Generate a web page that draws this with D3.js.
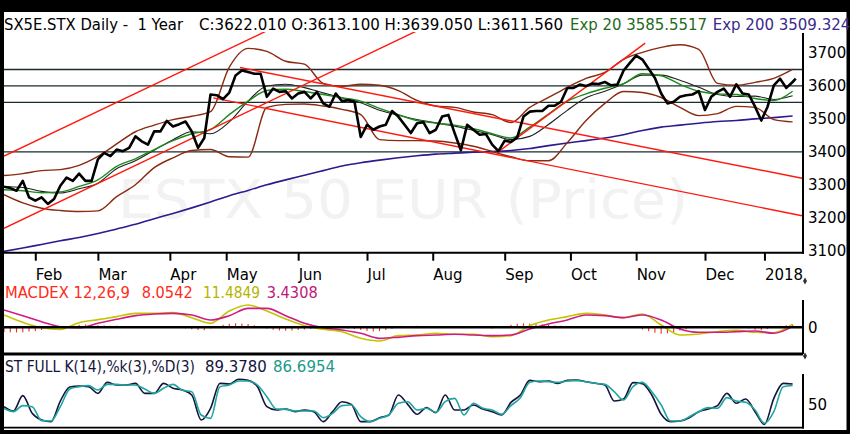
<!DOCTYPE html>
<html>
<head>
<meta charset="utf-8">
<script src="https://cdn.jsdelivr.net/npm/d3@7/dist/d3.min.js"></script>
<style>
  html, body { margin: 0; padding: 0; background: #000; }
  svg { display: block; font-family: "DejaVu Sans", Verdana, sans-serif; }
</style>
</head>
<body>
<div id="chart"></div>
<script>
// trading-day index of the month starts
var monthNames = ["Feb", "Mar", "Apr", "May", "Jun", "Jul", "Aug", "Sep", "Oct", "Nov", "Dec", "2018"];
var monthIdx = [10, 30, 53, 71, 94, 116, 137, 160, 181, 202, 224, 243];
var priceTicks = [3100, 3200, 3300, 3400, 3500, 3600, 3700];
var levels = [3650, 3600, 3550, 3400];

// close, one value every 2 trading days, last one is the latest bar
var closes = [
  3294, 3290, 3282, 3312, 3262, 3252, 3262, 3242, 3257, 3297, 3322, 3312, 3334, 3312, 3312, 3377, 3397,
  3387, 3407, 3402, 3412, 3447, 3432, 3422, 3462, 3462, 3494, 3477, 3484, 3492, 3462, 3412, 3442,
  3574, 3572, 3560, 3580, 3632, 3647, 3642, 3637, 3637, 3567, 3592, 3582, 3584, 3562, 3577, 3582,
  3562, 3582, 3547, 3537, 3577, 3554, 3557, 3552, 3445, 3482, 3467, 3477, 3482, 3524, 3507, 3482,
  3457, 3487, 3490, 3457, 3467, 3507, 3512, 3457, 3405, 3482, 3467, 3452, 3454, 3422, 3402, 3434,
  3430, 3444, 3507, 3522, 3524, 3524, 3540, 3540, 3552, 3594, 3594, 3604, 3600, 3607, 3606, 3612,
  3602, 3604, 3647, 3670, 3692, 3680, 3652, 3624, 3577, 3547, 3552, 3567, 3572, 3574, 3584, 3527,
  3567, 3582, 3592, 3567, 3605, 3577, 3574, 3537, 3495, 3537, 3602, 3622, 3594, 3612, 3622.01
];

// smooth series, one value every 6 trading days
var ema20 = [3285, 3282, 3276, 3278, 3295, 3315, 3356, 3379, 3407, 3434, 3455, 3468, 3513, 3554, 3586,
  3590, 3583, 3574, 3564, 3554, 3532, 3513, 3495, 3487, 3481, 3470, 3455, 3442, 3475, 3515, 3554,
  3576, 3593, 3607, 3637, 3631, 3605, 3584, 3576, 3574, 3562, 3556, 3584];
var sma20 = [3295, 3292, 3280, 3275, 3288, 3305, 3349, 3373, 3405, 3437, 3461, 3455, 3491, 3554, 3600,
  3605, 3595, 3579, 3564, 3549, 3526, 3511, 3498, 3488, 3478, 3465, 3452, 3437, 3447, 3483, 3526,
  3564, 3584, 3607, 3633, 3633, 3617, 3596, 3574, 3568, 3569, 3559, 3570];
var bbUpper = [3328, 3334, 3343, 3346, 3359, 3386, 3424, 3461, 3481, 3498, 3508, 3522, 3657, 3714, 3705,
  3675, 3666, 3608, 3599, 3605, 3602, 3586, 3556, 3539, 3535, 3521, 3513, 3489, 3535, 3565, 3596,
  3623, 3641, 3681, 3702, 3717, 3725, 3711, 3608, 3602, 3611, 3623, 3650];
var bbLower = [3270, 3245, 3229, 3222, 3219, 3221, 3264, 3300, 3352, 3382, 3404, 3407, 3385, 3384, 3535,
  3544, 3545, 3539, 3529, 3513, 3437, 3434, 3434, 3433, 3427, 3417, 3401, 3385, 3373, 3373, 3428,
  3495, 3547, 3583, 3580, 3565, 3535, 3510, 3516, 3538, 3535, 3498, 3491];
var ema200 = [3098, 3108, 3119, 3130, 3140, 3152, 3166, 3180, 3197, 3213, 3230, 3248, 3267, 3283, 3300,
  3315, 3329, 3343, 3357, 3367, 3375, 3382, 3388, 3393, 3396, 3399, 3401, 3404, 3410, 3419, 3427,
  3434, 3442, 3452, 3465, 3475, 3481, 3487, 3492, 3495, 3500, 3504, 3509];

// trend lines: [index, price] pairs
var trendLines = [
  [[0, 3387], [85, 3772]],
  [[0, 3168], [133, 3772]],
  [[75.4, 3656], [255, 3320]],
  [[66.9, 3564], [255, 3206]],
  [[157.5, 3397], [204.9, 3730]]
];

// MACD 12,26,9 every 6 days, histogram every 2 days
var macd = [45.6, 18.4, -1.4, -7.5, 17.2, 28.3, 39.4, 51.7, 51.7, 54.2, 35.7, 14.7, 60.4, 82.6, 60.4,
  30.7, 6.1, -7.5, -16.2, -40.9, -50.7, -31, -28.5, -22.3, -26, -26, -34.7, -31, 6.1, 27, 39.4,
  51.7, 45.6, 35.7, 49.3, 8.5, -28.5, -24.8, -16.2, -11.2, -18.6, -20, 11.5];
var signal = [64.1, 43.1, 20.9, 2.3, -1.4, 14.7, 29.5, 43.1, 49.3, 51.7, 45.6, 27, 43.1, 70.2, 70.2,
  43.1, 14.7, -1.4, -10, -22.3, -40.9, -37.2, -31, -28.5, -26, -28.5, -31, -28.5, -6.3, 12.2, 27,
  45.6, 43.1, 35.7, 45.6, 27, -6.3, -18.6, -18.6, -16.2, -13.7, -22.3, 3.4];
var hist = [-17, -18, -19, -18, -16, -14, -10, -6, -3, 1, 4, 7, 9, 10, 9, 8,
  7, 6, 6, 5, 5, 4, 3, 3, 2, 2, 1, 0, -2, -4, -7, -10, -11,
  -4, 4, 9, 13, 15, 14, 12, 8, 2, -4, -9, -12, -13, -12, -10, -8,
  -6, -5, -4, -3, -2, -3, -4, -6, -10, -14, -16, -14, -10, -5,
  -1, 2, 5, 6, 5, 4, 3, 2, 1, 0, -1, 0, 1, 0, -2, -4,
  -2, 3, 9, 13, 15, 14, 13, 11, 9, 7, 6, 5, 4, 3, 2,
  1, 0, -1, 1, 3, 4, 2, -2, -8, -15, -20, -24, -22, -17, -12,
  -7, -3, 0, 2, 3, 4, 5, 4, 2, 0, -4, -9, -11, -6, 2, 6, 8, 9];

// stochastic full, every 3 days
var stochK = [45.4, 37.0, 66.8, 32.4, 19.5, 16.2, 56.4, 83.7, 85.6, 84.3,
  71.3, 92.7, 87.5, 87.5, 90.8, 71.3, 71.3, 90.8, 81.1, 77.8,
  68.1, 19.5, 42.2, 90.8, 89.5, 98.6, 96.6, 84.3, 45.4, 38.9,
  40.9, 35.7, 38.9, 35.7, 16.2, 35.7, 55.1, 49.9, 16.2, 16.2,
  24.0, 29.2, 68.1, 49.9, 30.5, 43.5, 33.7, 68.1, 38.9, 38.9,
  48.7, 40.9, 35.7, 29.2, 53.8, 68.1, 96.6, 94.0, 95.3, 90.8,
  96.6, 97.3, 94.0, 90.8, 87.5, 56.4, 60.3, 92.1, 90.2, 68.1,
  30.5, 16.2, 17.5, 24.0, 35.7, 40.9, 47.4, 71.3, 51.9, 60.3,
  35.7, 11.0, 61.6, 90.8, 89.4];
var stochD = [42.2, 35.7, 47.4, 45.4, 18.2, 17.5, 45.4, 79.8, 84.3, 86.3,
  77.8, 88.8, 88.8, 87.5, 87.5, 79.8, 71.3, 81.1, 88.8, 77.2,
  74.6, 29.2, 22.7, 84.3, 87.5, 95.3, 95.3, 87.5, 64.9, 40.9,
  40.2, 37.0, 37.0, 37.0, 24.0, 32.4, 47.4, 48.7, 25.9, 16.2,
  22.7, 29.2, 51.9, 55.1, 38.9, 42.2, 34.4, 55.1, 61.6, 29.2,
  51.9, 42.2, 38.9, 30.5, 47.4, 62.9, 92.7, 95.3, 94.0, 92.7,
  95.3, 96.0, 94.0, 90.8, 88.8, 74.6, 58.4, 84.3, 92.7, 74.6,
  48.7, 17.5, 17.5, 25.9, 35.7, 43.5, 42.2, 62.9, 56.4, 53.8,
  38.9, 13.0, 35.7, 84.3, 86.7];

var W = 850, H = 434, axisX = 803;

var svg = d3.select("#chart").append("svg")
  .attr("width", W)
  .attr("height", H);

svg.append("rect").attr("width", W).attr("height", H).attr("fill", "#000");
svg.append("rect").attr("x", 4).attr("y", 12).attr("width", 842.5).attr("height", 418).attr("fill", "#fff");

var x = d3.scaleLinear().domain([0, 255]).range([4, 802]);
var y = d3.scaleLinear().domain([3100, 3700]).range([250.7, 53]);
var yMacd = d3.scaleLinear().domain([-100, 100]).range([354.3, 300.3]);
var yStoch = d3.scaleLinear().domain([0, 100]).range([430, 378.6]);

var defs = svg.append("defs");
addClip("clipMain", 32, 221);
addClip("clipMacd", 300, 54);
addClip("clipStoch", 374, 53);

function addClip (id, top, h) {
  defs.append("clipPath").attr("id", id)
    .append("rect").attr("x", 4).attr("y", top).attr("width", axisX - 4).attr("height", h);
}

function every (step, arr) {
  return arr.map(function (v, i) { return [i * step, v]; });
}

var closePts = closes.map(function (v, i) { return [Math.min(i * 2, 253), v]; });

function drawLine (g, pts, yScale, color, width, curve) {
  var line = d3.line()
    .x(function (d) { return x(d[0]); })
    .y(function (d) { return yScale(d[1]); })
    .curve(curve || d3.curveLinear);
  g.append("path")
    .attr("d", line(pts))
    .attr("fill", "none")
    .attr("stroke", color)
    .attr("stroke-width", width)
    .attr("stroke-linejoin", "round");
}

// text pieces; w = width measured on the original, stretched to fit
function drawTexts (parts, baseline) {
  parts.forEach(function (p) {
    var t = svg.append("text")
      .attr("x", p.x).attr("y", baseline)
      .attr("font-size", 15)
      .attr("fill", p.color)
      .style("white-space", "pre")
      .text(p.text);
    if (p.w) t.attr("textLength", p.w).attr("lengthAdjust", "spacingAndGlyphs");
  });
}

function styleAxisText (g) {
  g.select(".domain").remove();
  g.selectAll("text").attr("font-size", 15).attr("font-family", "DejaVu Sans").attr("fill", "#000");
}

// ---- main panel
var main = svg.append("g").attr("clip-path", "url(#clipMain)");

main.append("text")
  .attr("x", 118).attr("y", 218)
  .attr("font-size", 54)
  .attr("textLength", 570)
  .attr("lengthAdjust", "spacingAndGlyphs")
  .attr("fill", "#f2f2f2")
  .text("ESTX 50 EUR (Price)");

main.selectAll(".level").data(levels).enter().append("line")
  .attr("x1", 4).attr("x2", axisX)
  .attr("y1", function (d) { return y(d); })
  .attr("y2", function (d) { return y(d); })
  .attr("stroke", "#1c2b2b")
  .attr("stroke-width", 1.3);

drawLine(main, every(6, ema200), y, "#2d1a8e", 1.6, d3.curveMonotoneX);
drawLine(main, every(6, bbUpper), y, "#8a2a10", 1.4, d3.curveMonotoneX);
drawLine(main, every(6, bbLower), y, "#8a2a10", 1.4, d3.curveMonotoneX);
drawLine(main, every(6, sma20), y, "#202020", 1.1, d3.curveMonotoneX);
drawLine(main, every(6, ema20), y, "#1b8a1b", 1.4, d3.curveMonotoneX);

trendLines.forEach(function (t) {
  drawLine(main, t, y, "#ff1a10", 1.4);
});

drawLine(main, closePts, y, "#000", 2.6);

// right price axis
var gy = svg.append("g")
  .attr("transform", "translate(" + axisX + ",0)")
  .call(d3.axisRight(y).tickValues(priceTicks).tickSize(0).tickPadding(5).tickFormat(d3.format("d")));
styleAxisText(gy);

svg.append("line").attr("x1", axisX).attr("x2", axisX).attr("y1", 33).attr("y2", 253.7)
  .attr("stroke", "#000").attr("stroke-width", 2);

// time axis
svg.append("line").attr("x1", 4).attr("x2", axisX + 1).attr("y1", 252.7).attr("y2", 252.7)
  .attr("stroke", "#000").attr("stroke-width", 2);

var gx = svg.append("g")
  .attr("transform", "translate(0,252.7)")
  .call(d3.axisBottom(x).tickValues(monthIdx).tickSize(8)
    .tickFormat(function (d, i) { return monthNames[i]; }));
styleAxisText(gx);
gx.selectAll(".tick line").attr("stroke", "#000").attr("stroke-width", 2);
gx.selectAll(".tick text")
  .attr("text-anchor", "start")
  .attr("x", 0).attr("y", 27).attr("dy", 0);

// title
drawTexts([
  { x: 4, text: "SX5E.STX Daily -  1 Year", color: "#000", w: 179 },
  { x: 199, text: "C:3622.010 O:3613.100 H:3639.050 L:3611.560", color: "#000", w: 364 },
  { x: 570, text: "Exp 20 3585.5517", color: "#1d6b1d", w: 137 },
  { x: 712.7, text: "Exp 200 3509.324", color: "#3a2a8c" }
], 29.5);

// ---- MACD panel
var gm = svg.append("g").attr("clip-path", "url(#clipMacd)");

gm.selectAll(".bar").data(every(2, hist)).enter().append("line")
  .attr("x1", function (d) { return x(d[0]); })
  .attr("x2", function (d) { return x(d[0]); })
  .attr("y1", yMacd(0))
  .attr("y2", function (d) { return yMacd(d[1]); })
  .attr("stroke", "#ff2a1a")
  .attr("stroke-width", 1.1);

svg.append("line").attr("x1", 4).attr("x2", axisX).attr("y1", yMacd(0)).attr("y2", yMacd(0))
  .attr("stroke", "#000").attr("stroke-width", 2.4);

drawLine(gm, every(6, macd), yMacd, "#c4c400", 1.6, d3.curveMonotoneX);
drawLine(gm, every(6, signal), yMacd, "#d01c80", 1.6, d3.curveMonotoneX);

drawTexts([
  { x: 5, text: "MACDEX 12,26,9", color: "#ff2a1a", w: 125 },
  { x: 141.7, text: "8.0542", color: "#ff2a1a", w: 51 },
  { x: 203, text: "11.4849", color: "#b4b400", w: 57 },
  { x: 266.7, text: "3.4308", color: "#c0187a", w: 51 }
], 298);

svg.append("line").attr("x1", axisX).attr("x2", axisX).attr("y1", 300).attr("y2", 354)
  .attr("stroke", "#000").attr("stroke-width", 2);
var gmy = svg.append("g")
  .attr("transform", "translate(" + axisX + ",0)")
  .call(d3.axisRight(yMacd).tickValues([0]).tickSize(0).tickPadding(5));
styleAxisText(gmy);

svg.append("line").attr("x1", 4).attr("x2", axisX).attr("y1", 354).attr("y2", 354)
  .attr("stroke", "#000").attr("stroke-width", 3);

// ---- stochastic panel
var gs = svg.append("g").attr("clip-path", "url(#clipStoch)");
drawLine(gs, every(3, stochK), yStoch, "#14143c", 1.6, d3.curveMonotoneX);
drawLine(gs, every(3, stochD), yStoch, "#1fa59f", 1.6, d3.curveMonotoneX);

drawTexts([
  { x: 5, text: "ST FULL K(14),%k(3),%D(3)", color: "#14143c", w: 190 },
  { x: 205, text: "89.3780", color: "#14143c", w: 61.7 },
  { x: 273, text: "86.6954", color: "#1a9a8a", w: 62 }
], 371.5);

svg.append("line").attr("x1", axisX).attr("x2", axisX).attr("y1", 374).attr("y2", 428.5)
  .attr("stroke", "#000").attr("stroke-width", 2);
var gsy = svg.append("g")
  .attr("transform", "translate(" + axisX + ",0)")
  .call(d3.axisRight(yStoch).tickValues([50]).tickSize(0).tickPadding(5));
styleAxisText(gsy);

svg.append("line").attr("x1", 4).attr("x2", axisX + 1).attr("y1", 427.7).attr("y2", 427.7)
  .attr("stroke", "#000").attr("stroke-width", 1.8);

// panel handles
svg.selectAll(".handle").data([281, 356]).enter().append("path")
  .attr("d", d3.symbol().type(d3.symbolDiamond).size(14))
  .attr("transform", function (d) { return "translate(805," + d + ")"; })
  .attr("fill", "#333");
</script>
</body>
</html>
